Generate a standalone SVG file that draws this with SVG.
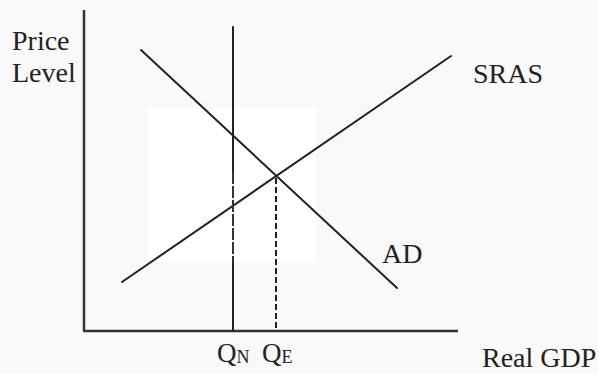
<svg xmlns="http://www.w3.org/2000/svg" width="598" height="374" viewBox="0 0 598 374">
<style>
.ln{stroke:#222;stroke-width:2;fill:none;stroke-linecap:round}
.ax{stroke:#333;stroke-width:2.5;fill:none}
.dash{stroke:#222;stroke-width:2;stroke-dasharray:6 3;fill:none}
.dash2{stroke:#333;stroke-width:2;stroke-dasharray:12 2;fill:none}
.t{font-family:"Liberation Serif","Times New Roman",serif;font-size:28px;fill:#222}
.q{font-family:"Liberation Serif","Times New Roman",serif;font-size:27px;fill:#222}
.s{font-family:"Liberation Serif","Times New Roman",serif;font-size:18px;fill:#222}
</style>
<rect width="598" height="374" fill="#f9f9f9"/>
<rect x="148" y="108" width="168" height="155" fill="#ffffff"/>
<g id="axes">
<line class="ax" x1="84" y1="10" x2="84" y2="331"/>
<line class="ax" x1="83" y1="331" x2="458" y2="331"/>
</g>
<g id="connectors">
<line id="AD" class="ln" x1="141" y1="50" x2="397" y2="288"/>
<line id="SRAS" class="ln" x1="122" y1="282" x2="451" y2="56"/>
<line id="QN-line-top" class="ln" x1="233" y1="27" x2="233" y2="172"/>
<line id="QN-line-mid" class="dash2" x1="233" y1="172" x2="233" y2="263"/>
<line id="QN-line-bottom" class="ln" x1="233" y1="263" x2="233" y2="331"/>
<line id="QE-line" class="dash" x1="276" y1="178" x2="276" y2="331"/>
</g>
<g id="labels">
<text class="t" x="12" y="50">Price</text>
<text class="t" x="12" y="82">Level</text>
<text class="t" x="473" y="83">SRAS</text>
<text class="t" x="382" y="263">AD</text>
<text class="t" x="482" y="367">Real GDP</text>
<text class="q" x="217" y="362">Q<tspan class="s" dy="1">N</tspan></text>
<text class="q" x="262" y="362">Q<tspan class="s" dy="1">E</tspan></text>
</g>
</svg>
